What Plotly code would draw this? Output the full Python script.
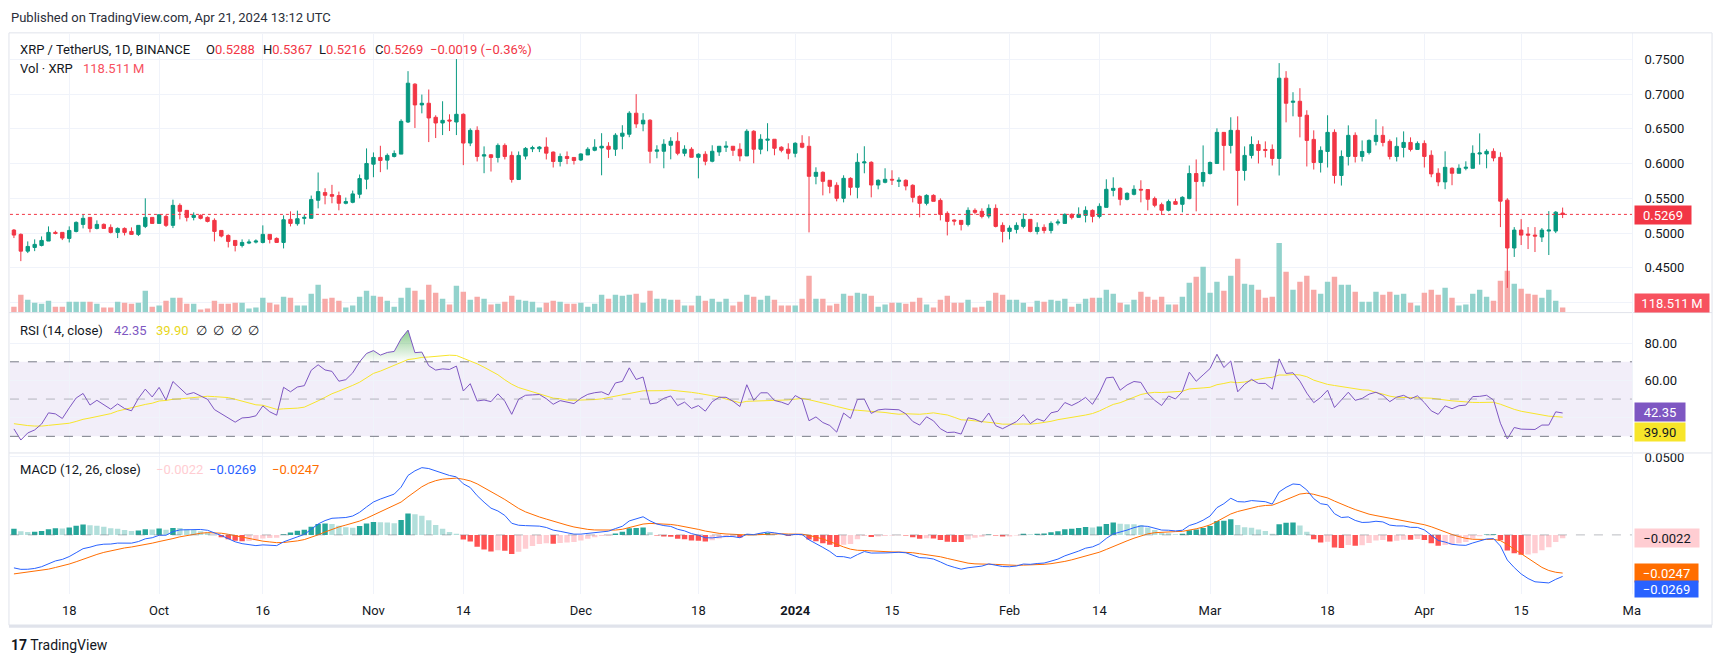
import plotly.graph_objects as go
import pandas as pd

W, H = 1732, 665

# ---------------- data ----------------
start_date = "2023-09-10"
n_days = 225
dates = pd.date_range(start_date, periods=n_days, freq="D")

open_ = [0.5043,0.4981,0.4740,0.4793,0.4822,0.4885,0.5010,0.5010,0.4923,0.5024,0.5125,0.5226,0.5067,0.5125,0.5082,0.5010,0.5067,0.5024,0.4981,0.5096,
0.5226,0.5139,0.5240,0.5111,0.5399,0.5327,0.5226,0.5255,0.5226,0.5183,0.5038,0.4966,0.4894,0.4822,0.4856,0.4870,0.4865,0.4981,0.4923,0.4865,
0.5197,0.5135,0.5212,0.5212,0.5472,0.5583,0.5554,0.5540,0.5429,0.5443,0.5559,0.5776,0.5992,0.6089,0.6050,0.6103,0.6137,0.6599,0.7144,0.6845,
0.6869,0.6667,0.6585,0.6628,0.6599,0.6710,0.6296,0.6479,0.6108,0.6127,0.6089,0.6262,0.6118,0.5771,0.6108,0.6214,0.6214,0.6238,0.6166,0.6031,
0.6103,0.6089,0.6053,0.6125,0.6192,0.6226,0.6250,0.6207,0.6394,0.6423,0.6726,0.6572,0.6625,0.6178,0.6178,0.6264,0.6322,0.6149,0.6207,0.6091,
0.6135,0.6034,0.6168,0.6236,0.6250,0.6207,0.6111,0.6466,0.6207,0.6337,0.6351,0.6236,0.6207,0.6149,0.6293,0.6250,0.5817,0.5875,0.5760,0.5688,
0.5500,0.5788,0.5659,0.6010,0.6019,0.5692,0.5731,0.5774,0.5745,0.5760,0.5688,0.5529,0.5428,0.5543,0.5471,0.5284,0.5188,0.5183,0.5125,0.5327,
0.5313,0.5245,0.5356,0.5111,0.5024,0.5053,0.5096,0.5197,0.5024,0.5082,0.5038,0.5144,0.5139,0.5269,0.5226,0.5255,0.5327,0.5240,0.5370,0.5615,
0.5644,0.5486,0.5558,0.5630,0.5626,0.5496,0.5409,0.5328,0.5453,0.5414,0.5496,0.5857,0.5742,0.5857,0.6002,0.6450,0.6262,0.6479,0.5901,0.6118,
0.6276,0.6204,0.6204,0.6074,0.7230,0.6883,0.6898,0.6696,0.6349,0.6016,0.6175,0.6450,0.5829,0.6103,0.6407,0.6103,0.6161,0.6320,0.6407,0.6320,
0.6103,0.6233,0.6305,0.6204,0.6291,0.6120,0.5861,0.5737,0.5933,0.5861,0.5933,0.5933,0.6139,0.6139,0.6177,0.6091,0.5474,0.4785,0.5043,0.4986,
0.4971,0.4943,0.5029,0.5029,0.5288]
high = [0.5058,0.4995,0.4880,0.4909,0.4952,0.5096,0.5034,0.5010,0.5096,0.5168,0.5269,0.5226,0.5183,0.5139,0.5125,0.5082,0.5082,0.5082,0.5111,0.5500,
0.5226,0.5264,0.5264,0.5481,0.5428,0.5327,0.5298,0.5269,0.5240,0.5212,0.5038,0.4981,0.4894,0.4909,0.4909,0.4909,0.5111,0.4981,0.4938,0.5255,
0.5313,0.5323,0.5260,0.5540,0.5872,0.5645,0.5694,0.5597,0.5511,0.5612,0.5843,0.6219,0.6161,0.6257,0.6146,0.6190,0.6638,0.7331,0.7158,0.6994,
0.7067,0.6696,0.6898,0.6710,0.7505,0.6724,0.6508,0.6537,0.6248,0.6137,0.6291,0.6291,0.6175,0.6175,0.6238,0.6257,0.6252,0.6378,0.6175,0.6146,
0.6175,0.6089,0.6149,0.6236,0.6351,0.6438,0.6308,0.6438,0.6553,0.6755,0.7000,0.6726,0.6639,0.6264,0.6351,0.6380,0.6452,0.6264,0.6236,0.6149,
0.6178,0.6264,0.6250,0.6322,0.6250,0.6293,0.6495,0.6481,0.6423,0.6582,0.6351,0.6250,0.6293,0.6308,0.6409,0.6394,0.5947,0.5889,0.5760,0.5731,
0.5832,0.5803,0.6149,0.6250,0.6034,0.5774,0.5933,0.5904,0.5803,0.5774,0.5702,0.5543,0.5558,0.5558,0.5500,0.5313,0.5197,0.5183,0.5370,0.5356,
0.5356,0.5413,0.5413,0.5154,0.5111,0.5154,0.5284,0.5197,0.5154,0.5125,0.5168,0.5197,0.5284,0.5284,0.5370,0.5385,0.5341,0.5428,0.5774,0.5803,
0.5659,0.5587,0.5688,0.5760,0.5626,0.5525,0.5438,0.5482,0.5496,0.5530,0.5973,0.6060,0.6262,0.6031,0.6508,0.6450,0.6667,0.6681,0.6248,0.6392,
0.6334,0.6320,0.6276,0.7447,0.7331,0.7028,0.7086,0.6768,0.6479,0.6248,0.6696,0.6493,0.6190,0.6551,0.6450,0.6334,0.6349,0.6638,0.6537,0.6349,
0.6378,0.6464,0.6378,0.6320,0.6335,0.6191,0.5933,0.6177,0.5947,0.5990,0.6033,0.6263,0.6435,0.6206,0.6220,0.6163,0.5502,0.5086,0.5201,0.5086,
0.5086,0.5072,0.5316,0.5316,0.5367]
low = [0.4928,0.4596,0.4712,0.4740,0.4808,0.4885,0.4981,0.4899,0.4865,0.5010,0.5067,0.5010,0.5053,0.5067,0.4995,0.4928,0.4966,0.4981,0.4957,0.5072,
0.5139,0.5139,0.5087,0.5072,0.5197,0.5168,0.5183,0.5197,0.5154,0.4880,0.4938,0.4793,0.4736,0.4793,0.4841,0.4851,0.4851,0.4851,0.4865,0.4779,
0.5096,0.5106,0.5125,0.5212,0.5356,0.5414,0.5429,0.5328,0.5414,0.5429,0.5501,0.5631,0.5804,0.5877,0.5915,0.6089,0.6137,0.6585,0.6513,0.6724,
0.6310,0.6368,0.6411,0.6469,0.6411,0.5978,0.6252,0.6031,0.5862,0.5886,0.6016,0.6060,0.5727,0.5771,0.6060,0.6166,0.6166,0.6060,0.5944,0.5959,
0.5992,0.5987,0.6038,0.6125,0.6178,0.5832,0.6082,0.6111,0.6207,0.6380,0.6514,0.6466,0.6005,0.6077,0.5933,0.6062,0.6120,0.6106,0.6091,0.5788,
0.5976,0.6019,0.6111,0.6168,0.6111,0.6034,0.6111,0.6005,0.6135,0.6178,0.6120,0.6163,0.6062,0.6091,0.6221,0.5010,0.5702,0.5543,0.5572,0.5457,
0.5442,0.5543,0.5500,0.5861,0.5514,0.5630,0.5716,0.5692,0.5663,0.5615,0.5442,0.5226,0.5399,0.5457,0.5183,0.4966,0.5111,0.5038,0.5096,0.5269,
0.5212,0.5212,0.5082,0.4865,0.4909,0.4995,0.5067,0.5010,0.4981,0.4995,0.4995,0.5111,0.5139,0.5197,0.5226,0.5154,0.5154,0.5212,0.5370,0.5529,
0.5399,0.5471,0.5543,0.5442,0.5328,0.5371,0.5260,0.5313,0.5414,0.5299,0.5487,0.5313,0.5670,0.5843,0.6002,0.5901,0.6146,0.5395,0.5756,0.6074,
0.6002,0.6089,0.5973,0.5829,0.6594,0.6681,0.6378,0.5959,0.5915,0.5872,0.5944,0.5713,0.5684,0.5973,0.6016,0.6031,0.6132,0.6262,0.6248,0.6060,
0.6031,0.6089,0.6175,0.6204,0.5944,0.5804,0.5675,0.5632,0.5689,0.5861,0.5904,0.5933,0.5986,0.5933,0.6033,0.5086,0.4211,0.4656,0.4828,0.4770,
0.4727,0.4871,0.4684,0.5000,0.5216]
close = [0.4971,0.4740,0.4808,0.4837,0.4894,0.5010,0.4995,0.4928,0.5038,0.5154,0.5212,0.5067,0.5125,0.5067,0.5010,0.5067,0.5010,0.4981,0.5111,0.5226,
0.5139,0.5264,0.5111,0.5399,0.5313,0.5226,0.5255,0.5212,0.5168,0.5024,0.4957,0.4880,0.4822,0.4865,0.4870,0.4885,0.4981,0.4909,0.4865,0.5192,
0.5139,0.5207,0.5226,0.5482,0.5597,0.5544,0.5530,0.5429,0.5453,0.5564,0.5785,0.6002,0.6089,0.6045,0.6118,0.6146,0.6609,0.7158,0.6845,0.6869,
0.6657,0.6585,0.6623,0.6614,0.6710,0.6296,0.6479,0.6103,0.6127,0.6089,0.6262,0.6103,0.5771,0.6118,0.6219,0.6229,0.6238,0.6151,0.6031,0.6103,
0.6074,0.6045,0.6139,0.6207,0.6236,0.6250,0.6207,0.6409,0.6438,0.6726,0.6572,0.6625,0.6178,0.6197,0.6279,0.6322,0.6149,0.6207,0.6091,0.6135,
0.6034,0.6178,0.6250,0.6250,0.6192,0.6111,0.6466,0.6207,0.6351,0.6351,0.6221,0.6192,0.6149,0.6293,0.6236,0.5817,0.5875,0.5745,0.5673,0.5500,
0.5788,0.5659,0.6019,0.6024,0.5692,0.5760,0.5774,0.5764,0.5760,0.5678,0.5514,0.5428,0.5543,0.5457,0.5269,0.5168,0.5173,0.5125,0.5327,0.5298,
0.5240,0.5356,0.5096,0.5024,0.5072,0.5111,0.5197,0.5024,0.5082,0.5038,0.5139,0.5159,0.5269,0.5226,0.5269,0.5327,0.5240,0.5385,0.5630,0.5644,
0.5486,0.5572,0.5630,0.5620,0.5487,0.5400,0.5328,0.5453,0.5414,0.5515,0.5857,0.5742,0.5872,0.6016,0.6450,0.6262,0.6479,0.5901,0.6118,0.6276,
0.6190,0.6190,0.6074,0.7230,0.6869,0.6898,0.6681,0.6334,0.6016,0.6190,0.6450,0.5829,0.6103,0.6407,0.6103,0.6175,0.6334,0.6407,0.6305,0.6103,
0.6248,0.6305,0.6204,0.6291,0.6103,0.5852,0.5737,0.5947,0.5861,0.5933,0.5947,0.6148,0.6153,0.6177,0.6081,0.5459,0.4785,0.5043,0.4971,0.4971,
0.4957,0.5043,0.5043,0.5301,0.5269]
volume_m = [142,427,308,237,213,284,142,142,261,261,261,261,213,119,119,261,237,213,237,521,
142,166,284,356,356,213,213,71,95,284,213,213,237,237,95,119,356,237,190,379,
356,166,166,450,664,332,356,284,119,166,379,521,403,379,284,142,356,593,521,308,
664,474,332,190,640,498,308,379,332,190,213,261,403,308,284,261,119,237,284,261,
213,213,237,142,213,427,332,427,403,427,450,237,521,332,332,308,308,166,166,403,
284,332,261,332,166,261,427,379,308,403,308,166,166,166,332,877,332,332,166,213,
450,403,474,450,403,142,190,237,237,213,261,356,190,119,308,403,237,237,308,119,
142,284,474,427,308,308,237,142,284,261,308,284,332,142,213,332,356,356,545,450,
237,190,308,498,379,308,379,190,190,379,711,853,1090,474,735,521,877,1280,687,664,
545,356,379,1659,972,545,735,877,545,450,735,853,664,664,498,261,261,498,427,498,
427,450,237,166,474,545,427,593,356,166,190,450,545,379,284,758,995,687,569,450,
427,356,545,284,118.511]

# indicator state before the first visible candle (estimated from the picture's left edge)
prev_close_seed = 0.5043
rsi_avg_gain_seed = 0.00305
rsi_avg_loss_seed = 0.00537
rsi_ma_seed = 37.0
ema12_seed = 0.507
ema26_seed = 0.529
signal_seed = -0.026

price_ticks = [0.40, 0.45, 0.50, 0.55, 0.60, 0.65, 0.70, 0.75]
price_ticktext = ["", "0.4500", "0.5000", "0.5500", "0.6000", "0.6500", "0.7000", "0.7500"]
x_tick_dates = ["2023-09-18", "2023-10-01", "2023-10-16", "2023-11-01", "2023-11-14", "2023-12-01",
                "2023-12-18", "2024-01-01", "2024-01-15", "2024-02-01", "2024-02-14", "2024-03-01",
                "2024-03-18", "2024-04-01", "2024-04-15", "2024-05-01"]
x_tick_text = ["18", "Oct", "16", "Nov", "14", "Dec", "18", "<b>2024</b>", "15", "Feb", "14", "Mar",
               "18", "Apr", "15", "Ma"]

# ---------------- indicators: RSI(14) + SMA(14), MACD(12, 26, 9) ----------------
def wilder_rsi(cl, prev, ag, al, n=14):
    out = []
    for v in cl:
        ch = v - prev
        ag = (ag * (n - 1) + max(ch, 0.0)) / n
        al = (al * (n - 1) + max(-ch, 0.0)) / n
        out.append(100 - 100 / (1 + ag / al) if al > 0 else 100.0)
        prev = v
    return out

def sma_seeded(vals, n, seed):
    buf = [seed] * (n - 1)
    out = []
    for v in vals:
        buf.append(v)
        out.append(sum(buf[-n:]) / n)
    return out

def ema_seeded(vals, span, seed):
    a = 2 / (span + 1)
    e = seed
    out = []
    for v in vals:
        e = a * v + (1 - a) * e
        out.append(e)
    return out

rsi = wilder_rsi(close, prev_close_seed, rsi_avg_gain_seed, rsi_avg_loss_seed)
rsi_ma = sma_seeded(rsi, 14, rsi_ma_seed)
macd = [a - b for a, b in zip(ema_seeded(close, 12, ema12_seed), ema_seeded(close, 26, ema26_seed))]
signal = ema_seeded(macd, 9, signal_seed)
hist = [m - s for m, s in zip(macd, signal)]

# ---------------- colours / geometry ----------------
UP, DN = "#089981", "#f23645"
VUP, VDN = "#92d2cc", "#f7a9a7"
GRID = "#f0f3fa"
TXT = "#131722"
FONT = "Roboto"

def py(y):
    return 1 - y / H

def pxx(x):
    return x / W

X0, X1 = 10, 1641
MAIN = (31, 311)
RSIP = (311, 452)
MACDP = (452, 594)
px_per_day = 6.95
t0 = pd.Timestamp(start_date)
x_range = [t0 - pd.Timedelta(days=(14 - X0) / px_per_day), t0 + pd.Timedelta(days=(X1 - 14) / px_per_day)]

vol_colors = [VUP if cl >= op else VDN for op, cl in zip(open_, close)]
hist_colors = []
prev = None
for h in hist:
    if h >= 0:
        col = "#26a69a" if (prev is None or h >= prev) else "#b2dfdb"
    else:
        col = "#ff5252" if (prev is None or h <= prev) else "#ffcdd2"
    hist_colors.append(col)
    prev = h

rsi_hi = [max(r, 70) for r in rsi]
rsi_lo = [min(r, 30) for r in rsi]

fig = go.Figure()
fig.add_trace(go.Bar(x=dates, y=volume_m, marker=dict(color=vol_colors, line=dict(width=0)),
                     width=0.78 * 86400000, xaxis="x", yaxis="y", hoverinfo="skip"))
fig.add_trace(go.Candlestick(x=dates, open=open_, high=high, low=low, close=close,
                             increasing=dict(line=dict(color=UP, width=1), fillcolor=UP),
                             decreasing=dict(line=dict(color=DN, width=1), fillcolor=DN),
                             whiskerwidth=0, xaxis="x", yaxis="y4"))
fig.add_trace(go.Scatter(x=dates, y=[70] * n_days, mode="lines", line=dict(width=0), xaxis="x2", yaxis="y2",
                         hoverinfo="skip"))
fig.add_trace(go.Scatter(x=dates, y=rsi_hi, mode="lines", line=dict(width=0), fill="tonexty",
                         fillgradient=dict(type="vertical", start=70, stop=90,
                                           colorscale=[[0, "rgba(76,175,80,0)"], [1, "rgba(76,175,80,0.75)"]]),
                         xaxis="x2", yaxis="y2", hoverinfo="skip"))
fig.add_trace(go.Scatter(x=dates, y=[30] * n_days, mode="lines", line=dict(width=0), xaxis="x2", yaxis="y2",
                         hoverinfo="skip"))
fig.add_trace(go.Scatter(x=dates, y=rsi_lo, mode="lines", line=dict(width=0), fill="tonexty",
                         fillgradient=dict(type="vertical", start=30, stop=15,
                                           colorscale=[[0, "rgba(255,82,82,0)"], [1, "rgba(255,82,82,0.75)"]]),
                         xaxis="x2", yaxis="y2", hoverinfo="skip"))
fig.add_trace(go.Scatter(x=dates, y=rsi_ma, mode="lines", line=dict(color="#f7e52a", width=1), xaxis="x2", yaxis="y2"))
fig.add_trace(go.Scatter(x=dates, y=rsi, mode="lines", line=dict(color="#7e57c2", width=1), xaxis="x2", yaxis="y2"))
fig.add_trace(go.Bar(x=dates, y=hist, marker=dict(color=hist_colors, line=dict(width=0)),
                     width=0.78 * 86400000, xaxis="x3", yaxis="y3"))
fig.add_trace(go.Scatter(x=dates, y=signal, mode="lines", line=dict(color="#ff6d00", width=1), xaxis="x3", yaxis="y3"))
fig.add_trace(go.Scatter(x=dates, y=macd, mode="lines", line=dict(color="#2962ff", width=1), xaxis="x3", yaxis="y3"))

xcommon = dict(domain=[pxx(X0), pxx(X1)], range=x_range, type="date", showgrid=True, gridcolor=GRID,
               gridwidth=1, tickvals=x_tick_dates, ticktext=x_tick_text, zeroline=False, showline=False,
               rangeslider=dict(visible=False), fixedrange=True)
fig.update_layout(
    width=W, height=H, margin=dict(l=0, r=0, t=0, b=0),
    paper_bgcolor="white", plot_bgcolor="white", showlegend=False,
    font=dict(family=FONT, size=13, color=TXT),
    xaxis=dict(xcommon, anchor="y", showticklabels=False),
    xaxis2=dict(xcommon, anchor="y2", showticklabels=False, matches="x"),
    xaxis3=dict(xcommon, anchor="y3", showticklabels=True, matches="x", ticks="",
                ticklabelstandoff=7, tickfont=dict(size=13, color=TXT)),
    yaxis=dict(domain=[py(MAIN[1]), py(MAIN[0])], range=[0, 280 * 23.7], visible=False, showgrid=False),
    yaxis4=dict(overlaying="y", side="right", anchor="x", range=[0.45 - 45 / 697.7, 0.45 + 235 / 697.7],
                tickvals=price_ticks, ticktext=price_ticktext, showgrid=True, gridcolor=GRID,
                zeroline=False, ticks="", ticklabelstandoff=11, tickfont=dict(size=13, color=TXT)),
    yaxis2=dict(domain=[py(RSIP[1]), py(RSIP[0])], anchor="x2", side="right",
                range=[80 - (RSIP[1] - 341.7) / 1.872, 80 + (341.7 - RSIP[0]) / 1.872],
                tickvals=[40, 60, 80], ticktext=["", "60.00", "80.00"], showgrid=True, gridcolor=GRID,
                zeroline=False, ticks="", ticklabelstandoff=11, tickfont=dict(size=13, color=TXT)),
    yaxis3=dict(domain=[py(MACDP[1]), py(MACDP[0])], anchor="x3", side="right",
                range=[-(MACDP[1] - 534.3) / 1566, (534.3 - MACDP[0]) / 1566],
                tickvals=[0.05], ticktext=["0.0500"], showgrid=True, gridcolor=GRID,
                zeroline=False, ticks="", ticklabelstandoff=11, tickfont=dict(size=13, color=TXT)),
)

shapes = []
shapes.append(dict(type="rect", xref="x2 domain", yref="y2", x0=0, x1=1, y0=30, y1=70,
                   fillcolor="rgba(126,87,194,0.1)", line=dict(width=0), layer="below"))
for lvl, col in [(70, "#787b86"), (50, "rgba(120,123,134,0.5)"), (30, "#787b86")]:
    shapes.append(dict(type="line", xref="x2 domain", yref="y2", x0=0, x1=1, y0=lvl, y1=lvl,
                       line=dict(color=col, width=1, dash="dash")))
shapes.append(dict(type="line", xref="x3 domain", yref="y3", x0=0, x1=1, y0=0, y1=0,
                   line=dict(color="rgba(120,123,134,0.5)", width=1, dash="dash")))
shapes.append(dict(type="line", xref="x domain", yref="y4", x0=0, x1=1, y0=close[-1], y1=close[-1],
                   line=dict(color=DN, width=1, dash="dot")))
for yy in (RSIP[0], MACDP[0]):
    shapes.append(dict(type="line", xref="paper", yref="paper", x0=pxx(9), x1=pxx(1721), y0=py(yy), y1=py(yy),
                       line=dict(color="#e0e3eb", width=1)))
shapes.append(dict(type="line", xref="paper", yref="paper", x0=pxx(X1), x1=pxx(X1), y0=py(MACDP[1]), y1=py(30),
                   line=dict(color="#f0f3fa", width=1)))
shapes.append(dict(type="rect", xref="paper", yref="paper", x0=pxx(9), x1=pxx(1721), y0=py(625), y1=py(30),
                   line=dict(color="#e0e3eb", width=1)))
shapes.append(dict(type="line", xref="paper", yref="paper", x0=pxx(9), x1=pxx(1721), y0=py(626), y1=py(626),
                   line=dict(color="#e0e3eb", width=3)))
fig.update_layout(shapes=shapes)

ann = []
def text(x, y, s, size=13, color=TXT, **kw):
    ann.append(dict(xref="paper", yref="paper", x=pxx(x), y=py(y), text=s, showarrow=False,
                    xanchor="left", yanchor="middle", font=dict(family=FONT, size=size, color=color), **kw))

def sp(s, col):
    return f'<span style="color:{col}">{s}</span>'

text(9, 15, "Published on TradingView.com, Apr 21, 2024 13:12 UTC", size=13, color="#2a2e39")
text(18, 47, "XRP / TetherUS, 1D, BINANCE")
text(205, 47, "O" + sp("0.5288", DN))
text(262, 47, "H" + sp("0.5367", DN))
text(319, 47, "L" + sp("0.5216", DN))
text(375, 47, "C" + sp("0.5269", DN))
text(430, 47, sp("\u22120.0019 (\u22120.36%)", DN))
text(18, 66, "Vol \u00b7 XRP")
text(81, 66, sp("118.511\u2009M", "#f7525f"))
text(18, 329, "RSI (14, close)")
text(113, 329, sp("42.35", "#7e57c2"))
text(155, 329, sp("39.90", "#e8d71c"))
text(195, 329, "\u2205\u00a0\u00a0\u2205\u00a0\u00a0\u2205\u00a0\u00a0\u2205")
text(18, 469, "MACD (12, 26, close)")
text(155, 469, sp("\u22120.0022", "#ffcdd2"))
text(208, 469, sp("\u22120.0269", "#2962ff"))
text(271, 469, sp("\u22120.0247", "#ff6d00"))

def box(x0, x1, yc, h, s, bg, fg="white"):
    ann.append(dict(xref="paper", yref="paper", x=pxx(x0), y=py(yc), text=s, showarrow=False,
                    xanchor="left", yanchor="middle", width=x1 - x0, height=h, bgcolor=bg,
                    align="center", font=dict(family=FONT, size=13, color=fg), borderpad=0))

box(1643, 1699, 212.5, 18, "0.5269", "#f23645")
box(1643, 1717, 301, 18, "118.511\u2009M", "#f7525f")
box(1643, 1693, 411, 18, "42.35", "#7e57c2")
box(1643, 1693, 431, 18, "39.90", "#f7e52a", TXT)
box(1643, 1707, 537.5, 18, "\u22120.0022", "#ffcdd2", TXT)
box(1643, 1706, 572.5, 18, "\u22120.0247", "#ff6d00")
box(1643, 1706, 589, 16, "\u22120.0269", "#2962ff")

text(9, 645, "<b>17</b> TradingView", size=14, color=TXT)
fig.update_layout(annotations=ann)

fig.write_html("out.html", config={"displayModeBar": False, "staticPlot": True},
               post_script="document.body.style.margin='0';document.body.style.overflow='hidden';")
